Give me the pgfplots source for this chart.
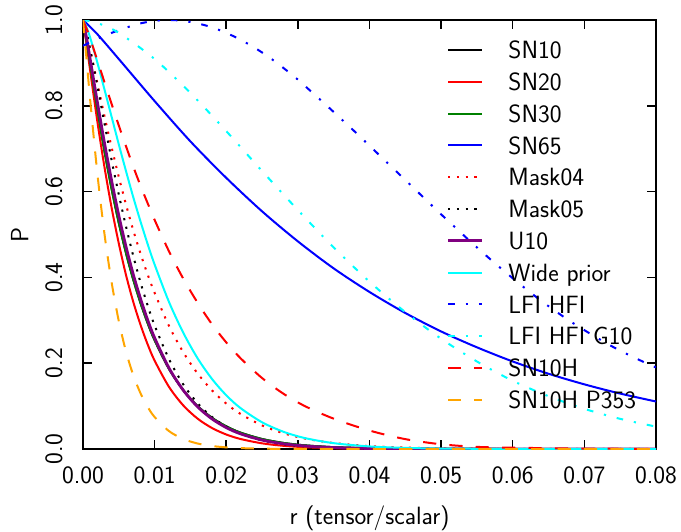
\documentclass[border=0pt]{standalone}
\usepackage{fontspec}
\renewcommand{\familydefault}{\sfdefault}
\usepackage{pgfplots}
\pgfplotsset{compat=1.18}
\definecolor{mplgreen}{rgb}{0,0.5,0}
\definecolor{mplcyan}{rgb}{0,1,1}
\definecolor{mplpurple}{rgb}{0.5,0,0.5}
\definecolor{mplorange}{rgb}{1,0.647,0}
\begin{document}
\fontsize{25}{30}\selectfont
\begin{tikzpicture}
\begin{axis}[
  scale only axis, width=573pt, height=429pt,
  xmin=0, xmax=0.08, ymin=0, ymax=1,
  xtick={0,0.01,0.02,0.03,0.04,0.05,0.06,0.07,0.08},
  ytick={0,0.2,0.4,0.6,0.8,1.0},
  scaled x ticks=false, scaled y ticks=false,
  /pgf/number format/assume math mode=true,
  xticklabel style={/pgf/number format/fixed, /pgf/number format/fixed zerofill, /pgf/number format/precision=2, yshift=-9pt},
  yticklabel style={/pgf/number format/fixed, /pgf/number format/fixed zerofill, /pgf/number format/precision=1, rotate=90, anchor=south, yshift=12pt},
  tick align=inside, tick pos=both,
  major tick length=9pt,
  every tick/.style={line width=1.5pt, black},
  axis line style={line width=2pt},
  xlabel={r (tensor/scalar)}, ylabel={P},
  xlabel style={yshift=-5pt},
  ylabel style={yshift=0pt},
  legend style={draw=none, fill=none, inner sep=0pt, outer sep=0pt,
    at={(rel axis cs:0.9655,0.9505)}, anchor=north east,
    row sep=14.3pt,
    nodes={inner sep=0pt, text height=17.5pt, text depth=0pt},
    /tikz/every odd column/.append style={column sep=25pt}},
  legend cell align=left,
  legend image code/.code={\draw[#1] (0pt,0pt) -- (34pt,0pt);},
  every axis plot/.append style={line width=2pt},
]
% SN10
\addplot[black, smooth] coordinates {(0,1)(0.0005,0.950)(0.001,0.897)(0.002,0.792)(0.003,0.694)(0.004,0.606)(0.005,0.527)(0.006,0.457)(0.007,0.396)(0.008,0.342)(0.009,0.2946)(0.010,0.2535)(0.012,0.1869)(0.014,0.1371)(0.016,0.1001)(0.018,0.0728)(0.020,0.0528)(0.022,0.0381)(0.025,0.0233)(0.028,0.0141)(0.031,0.0085)(0.035,0.0043)(0.040,0.0018)(0.045,0.0007)(0.050,0.0003)(0.060,0)(0.080,0)};
\addlegendentry{SN10}
% SN20
\addplot[red, smooth] coordinates {(0,1)(0.0005,0.943)(0.001,0.882)(0.002,0.764)(0.003,0.657)(0.004,0.562)(0.005,0.479)(0.006,0.406)(0.007,0.344)(0.008,0.291)(0.009,0.245)(0.010,0.206)(0.012,0.145)(0.014,0.1016)(0.016,0.0708)(0.018,0.0490)(0.020,0.0338)(0.022,0.0233)(0.025,0.0132)(0.028,0.0074)(0.031,0.0042)(0.035,0.0019)(0.040,0.0007)(0.050,0.0001)(0.060,0)(0.080,0)};
\addlegendentry{SN20}
% SN30
\addplot[mplgreen, smooth] coordinates {(0,1)(0.0005,0.950)(0.001,0.897)(0.002,0.792)(0.003,0.694)(0.004,0.606)(0.005,0.527)(0.006,0.457)(0.007,0.396)(0.008,0.342)(0.009,0.2946)(0.010,0.2535)(0.012,0.1869)(0.014,0.1371)(0.016,0.1001)(0.018,0.0728)(0.020,0.0528)(0.022,0.0381)(0.025,0.0233)(0.028,0.0141)(0.031,0.0085)(0.035,0.0043)(0.040,0.0018)(0.045,0.0007)(0.050,0.0003)(0.060,0)(0.080,0)};
\addlegendentry{SN30}
% SN65
\addplot[blue, smooth] coordinates {(0,1)(0.002,0.967)(0.005,0.909)(0.010,0.811)(0.015,0.717)(0.020,0.632)(0.025,0.554)(0.030,0.484)(0.035,0.421)(0.040,0.366)(0.045,0.317)(0.050,0.274)(0.055,0.237)(0.060,0.204)(0.065,0.1754)(0.070,0.1507)(0.075,0.1292)(0.080,0.1107)};
\addlegendentry{SN65}
% Mask04
\addplot[red, dash pattern=on 2.2pt off 6.6pt, smooth] coordinates {(0,1)(0.0005,0.968)(0.001,0.931)(0.002,0.853)(0.003,0.776)(0.004,0.703)(0.005,0.634)(0.006,0.570)(0.007,0.511)(0.008,0.457)(0.009,0.408)(0.010,0.364)(0.012,0.287)(0.014,0.2255)(0.016,0.1761)(0.018,0.1369)(0.020,0.1059)(0.022,0.0817)(0.025,0.0549)(0.028,0.0367)(0.031,0.0243)(0.035,0.0139)(0.040,0.0069)(0.045,0.0033)(0.050,0.0016)(0.060,0.0004)(0.080,0)};
\addlegendentry{Mask04}
% Mask05
\addplot[black, dash pattern=on 2.2pt off 6.6pt, smooth] coordinates {(0,1)(0.0005,0.971)(0.001,0.932)(0.002,0.847)(0.003,0.759)(0.004,0.673)(0.005,0.593)(0.006,0.519)(0.007,0.451)(0.008,0.390)(0.009,0.336)(0.010,0.288)(0.012,0.2098)(0.014,0.1505)(0.016,0.1067)(0.018,0.0748)(0.020,0.0519)(0.022,0.0357)(0.025,0.0201)(0.028,0.0111)(0.031,0.0060)(0.035,0.0026)(0.040,0.0009)(0.050,0.0001)(0.060,0)(0.080,0)};
\addlegendentry{Mask05}
% U10
\addplot[mplpurple, line width=2.8pt, smooth] coordinates {(0,1)(0.0005,0.958)(0.001,0.909)(0.002,0.809)(0.003,0.713)(0.004,0.625)(0.005,0.544)(0.006,0.472)(0.007,0.408)(0.008,0.352)(0.009,0.302)(0.010,0.259)(0.012,0.189)(0.014,0.137)(0.016,0.0984)(0.018,0.0703)(0.020,0.0499)(0.022,0.0353)(0.025,0.0208)(0.028,0.0121)(0.031,0.0070)(0.035,0.0033)(0.040,0.0013)(0.045,0.0005)(0.055,0)(0.080,0)};
\addlegendentry{U10}
% Wide prior
\addplot[mplcyan, smooth] coordinates {(0,1)(0.0005,0.983)(0.001,0.959)(0.002,0.901)(0.003,0.838)(0.004,0.774)(0.005,0.710)(0.006,0.648)(0.007,0.588)(0.008,0.532)(0.009,0.479)(0.010,0.430)(0.012,0.343)(0.014,0.271)(0.016,0.2114)(0.018,0.1635)(0.020,0.1253)(0.022,0.0953)(0.025,0.0623)(0.028,0.0401)(0.031,0.0254)(0.035,0.0136)(0.040,0.0060)(0.045,0.0026)(0.050,0.0011)(0.060,0.0002)(0.080,0)};
\addlegendentry{Wide prior}
% LFI HFI
\addplot[blue, dash pattern=on 6.6pt off 11pt on 2.2pt off 11pt, smooth] coordinates {(0,0.94)(0.002,0.956)(0.004,0.970)(0.006,0.982)(0.008,0.992)(0.010,0.998)(0.012,1.000)(0.014,0.998)(0.016,0.992)(0.018,0.983)(0.020,0.970)(0.022,0.954)(0.024,0.935)(0.026,0.913)(0.028,0.888)(0.030,0.861)(0.032,0.831)(0.034,0.801)(0.036,0.770)(0.038,0.739)(0.040,0.707)(0.042,0.675)(0.044,0.643)(0.046,0.611)(0.048,0.579)(0.050,0.547)(0.052,0.516)(0.054,0.485)(0.056,0.455)(0.058,0.426)(0.060,0.398)(0.062,0.371)(0.064,0.345)(0.066,0.321)(0.068,0.298)(0.070,0.277)(0.072,0.257)(0.074,0.238)(0.076,0.221)(0.078,0.205)(0.080,0.190)};
\addlegendentry{LFI HFI}
% LFI HFI G10
\addplot[mplcyan, dash pattern=on 6.6pt off 11pt on 2.2pt off 11pt, smooth] coordinates {(0,1)(0.002,0.993)(0.005,0.970)(0.010,0.909)(0.015,0.830)(0.020,0.741)(0.025,0.648)(0.030,0.557)(0.035,0.470)(0.040,0.390)(0.045,0.319)(0.050,0.257)(0.055,0.204)(0.060,0.159)(0.065,0.123)(0.070,0.0936)(0.075,0.0703)(0.080,0.0522)};
\addlegendentry{LFI HFI G10}
% SN10H
\addplot[red, dash pattern=on 13.2pt off 13.2pt, smooth] coordinates {(0,1)(0.0005,0.980)(0.001,0.957)(0.002,0.906)(0.003,0.855)(0.004,0.804)(0.005,0.754)(0.006,0.706)(0.007,0.659)(0.008,0.615)(0.009,0.574)(0.010,0.534)(0.012,0.461)(0.014,0.397)(0.016,0.341)(0.018,0.291)(0.020,0.2485)(0.022,0.2115)(0.025,0.1654)(0.028,0.1287)(0.031,0.0998)(0.035,0.0707)(0.040,0.043)(0.045,0.023)(0.050,0.011)(0.055,0.005)(0.060,0.003)(0.070,0.001)(0.080,0.0003)};
\addlegendentry{SN10H}
% SN10H P353
\addplot[mplorange, dash pattern=on 13.2pt off 13.2pt, smooth] coordinates {(0,1)(0.0005,0.908)(0.001,0.814)(0.002,0.643)(0.003,0.501)(0.004,0.388)(0.005,0.298)(0.006,0.2275)(0.007,0.173)(0.008,0.131)(0.009,0.099)(0.010,0.0745)(0.012,0.0418)(0.014,0.0233)(0.016,0.0128)(0.018,0.0070)(0.020,0.0038)(0.022,0.0021)(0.025,0.0008)(0.030,0.0002)(0.040,0)(0.080,0)};
\addlegendentry{SN10H P353}
\end{axis}
\pgfresetboundingbox
\path[use as bounding box] (-83pt,-82pt) rectangle (598pt,449pt);
\end{tikzpicture}
\end{document}
